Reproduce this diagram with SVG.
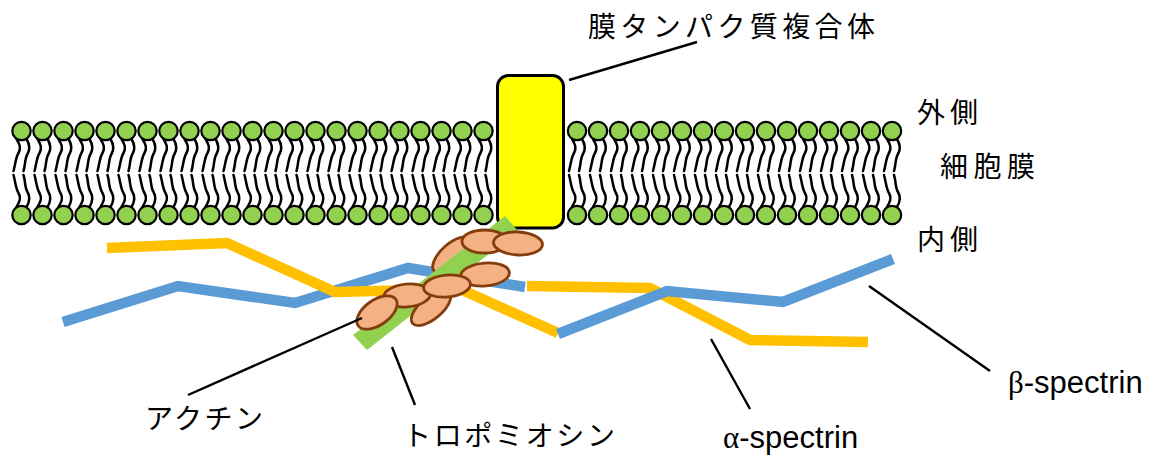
<svg xmlns="http://www.w3.org/2000/svg" width="1157" height="457" viewBox="0 0 1157 457">
  <style>
    .head{fill:#92D050;stroke:#000;stroke-width:2.2}
    .tail{fill:none;stroke:#000;stroke-width:2.5;stroke-linecap:round}
    .blue{fill:none;stroke:#5B9BD5;stroke-width:10.5;stroke-linejoin:miter}
    .yellow{fill:none;stroke:#FFC000;stroke-width:10.5;stroke-linejoin:miter}
    .actin{fill:#F4B183;stroke:#843C0C;stroke-width:2.8}
    .lead{fill:none;stroke:#000;stroke-width:2.4}
    .jp{font-family:"Noto Sans CJK JP","Noto Sans CJK SC",sans-serif;font-size:28px;fill:#000}
    .en{font-family:"Liberation Sans",Arial,sans-serif;font-size:31px;fill:#000}
    .greek{font-family:"Liberation Serif","DejaVu Serif",serif}
  </style>
  <defs>
    <!-- one phospholipid: head with two wavy tails hanging below -->
    <g id="lipid">
      <path class="tail" d="M-5,8 C-2,13 0,17 -3,22 C-6,27 -6,33 -8,40"/>
      <path class="tail" d="M5,8 C8,13 9,18 6,23 C3,28 4,34 2,40"/>
      <circle class="head" r="9.2"/>
    </g>
    <!-- a column of the bilayer: outer and inner lipid -->
    <g id="col">
      <use href="#lipid"/>
      <use href="#lipid" transform="translate(0,84) scale(1,-1)"/>
    </g>
  </defs>

  <rect width="1157" height="457" fill="#fff"/>

  <!-- lipid bilayer -->
  <g id="membrane">
    <use href="#col" x="21.5" y="131"/><use href="#col" x="42.5" y="131"/><use href="#col" x="63.5" y="131"/>
    <use href="#col" x="84.5" y="131"/><use href="#col" x="105.5" y="131"/><use href="#col" x="126.5" y="131"/>
    <use href="#col" x="147.5" y="131"/><use href="#col" x="168.5" y="131"/><use href="#col" x="189.5" y="131"/>
    <use href="#col" x="210.5" y="131"/><use href="#col" x="231.5" y="131"/><use href="#col" x="252.5" y="131"/>
    <use href="#col" x="273.5" y="131"/><use href="#col" x="294.5" y="131"/><use href="#col" x="315.5" y="131"/>
    <use href="#col" x="336.5" y="131"/><use href="#col" x="357.5" y="131"/><use href="#col" x="378.5" y="131"/>
    <use href="#col" x="399.5" y="131"/><use href="#col" x="420.5" y="131"/><use href="#col" x="441.5" y="131"/>
    <use href="#col" x="462.5" y="131"/><use href="#col" x="483.5" y="131"/>
    <use href="#col" x="577" y="131"/><use href="#col" x="598" y="131"/><use href="#col" x="619" y="131"/>
    <use href="#col" x="640" y="131"/><use href="#col" x="661" y="131"/><use href="#col" x="682" y="131"/>
    <use href="#col" x="703" y="131"/><use href="#col" x="724" y="131"/><use href="#col" x="745" y="131"/>
    <use href="#col" x="766" y="131"/><use href="#col" x="787" y="131"/><use href="#col" x="808" y="131"/>
    <use href="#col" x="829" y="131"/><use href="#col" x="850" y="131"/><use href="#col" x="871" y="131"/>
    <use href="#col" x="892" y="131"/>
  </g>

  <!-- membrane protein complex -->
  <g id="protein">
    <rect x="497.5" y="75.5" width="66" height="152.5" rx="11" fill="#FFFF00" stroke="#000" stroke-width="3"/>
  </g>

  <!-- spectrin network (alpha and beta strands interleaved) -->
  <g id="spectrin">
    <polyline id="beta-left" class="blue" points="63,322 178,286 295,303 408,268 525,287"/>
    <polyline id="alpha-left" class="yellow" points="107,248 227,243 335,292 460,289 558,333"/>
    <polyline id="alpha-right" class="yellow" points="527,286 650,288 750,340 868,342"/>
    <polyline id="beta-right" class="blue" points="558,334 667,291 783,302 893,259"/>
  </g>

  <!-- actin filament wrapped by tropomyosin -->
  <g id="actin-filament">
    <ellipse class="actin" cx="452" cy="255" rx="24" ry="11" transform="rotate(-42 452 255)"/>
    <polygon id="tropomyosin" points="353,335 367,350 518,231 505,216" fill="#92D050"/>
    <ellipse class="actin" cx="431" cy="308" rx="24" ry="11" transform="rotate(-40 431 308)"/>
    <ellipse class="actin" cx="485" cy="274.5" rx="24.5" ry="11.5" transform="rotate(-5 485 274.5)"/>
    <ellipse class="actin" cx="407" cy="295.5" rx="23.5" ry="11.5" transform="rotate(-5 407 295.5)"/>
    <ellipse class="actin" cx="447" cy="286" rx="23.5" ry="11" transform="rotate(-5 447 286)"/>
    <ellipse class="actin" cx="377" cy="312.5" rx="23" ry="12.5" transform="rotate(-35 377 312.5)"/>
    <ellipse class="actin" cx="484.5" cy="241.5" rx="22.5" ry="11.5"/>
    <ellipse class="actin" cx="518" cy="243.5" rx="24.5" ry="11.5" transform="rotate(3 518 243.5)"/>
  </g>

  <!-- leader lines -->
  <g id="connectors">
    <line class="lead" x1="569" y1="80" x2="697" y2="42"/>
    <line class="lead" x1="188" y1="395" x2="362" y2="318"/>
    <line class="lead" x1="392" y1="347" x2="415" y2="405"/>
    <line class="lead" x1="711" y1="339" x2="750" y2="409"/>
    <line class="lead" x1="869" y1="286" x2="990" y2="371"/>
  </g>

  <!-- labels -->
  <g id="labels">
    <text class="jp" x="588" y="37" font-size="30" textLength="287" lengthAdjust="spacing">膜タンパク質複合体</text>
    <text class="jp" x="917" y="123" font-size="30" textLength="61" lengthAdjust="spacing">外側</text>
    <text class="jp" x="940" y="177" font-size="30" textLength="95" lengthAdjust="spacing">細胞膜</text>
    <text class="jp" x="917" y="250" font-size="30" textLength="61" lengthAdjust="spacing">内側</text>
    <text class="jp" x="145" y="429" textLength="118" lengthAdjust="spacing">アクチン</text>
    <text class="jp" x="403" y="446" textLength="212" lengthAdjust="spacing">トロポミオシン</text>
    <text class="en" x="723" y="448"><tspan class="greek">α</tspan>-spectrin</text>
    <text class="en" x="1008" y="393"><tspan class="greek">β</tspan>-spectrin</text>
  </g>
</svg>
